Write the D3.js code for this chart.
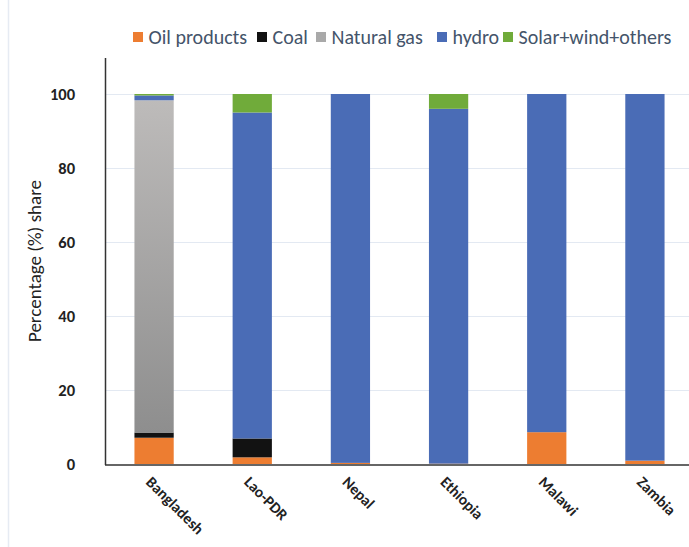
<!DOCTYPE html>
<html>
<head>
<meta charset="utf-8">
<script src="https://cdn.jsdelivr.net/npm/d3@7"></script>
<style>
  html, body { margin: 0; padding: 0; background: #fff; }
  svg { display: block; font-family: Calibri, Carlito, Lato, "Open Sans", sans-serif; }
</style>
</head>
<body>
<svg id="chart" width="689" height="547"></svg>
<script>
// Electricity generation mix by country (percentage share)
const countries = ["Bangladesh", "Lao-PDR", "Nepal", "Ethiopia", "Malawi", "Zambia"];
const seriesNames = ["Oil products", "Coal", "Natural gas", "hydro", "Solar+wind+others"];
const oilProducts = [7.1, 1.8, 0.3, 0.1, 8.6, 0.9];
const coal        = [1.4, 5.1, 0, 0, 0, 0];
const naturalGas  = [89.8, 0, 0, 0, 0, 0];
const hydro       = [1.3, 88.1, 99.7, 95.9, 91.4, 99.1];
const solarWind   = [0.4, 5.0, 0, 4.0, 0, 0];
const yTicks = [0, 20, 40, 60, 80, 100];

const seriesValues = [oilProducts, coal, naturalGas, hydro, solarWind];
const colors = ["#ED7D31", "#121212", "url(#gasGrad)", "#4A6CB6", "#70AB3A"];
const legendColors = ["#ED7D31", "#121212", "#A9A9A9", "#4A6CB6", "#70AB3A"];
const FONT = "Calibri, Carlito, Lato, 'Open Sans', sans-serif";

const rows = countries.map((c, i) => {
  const r = { country: c };
  seriesNames.forEach((s, j) => r[s] = seriesValues[j][i]);
  return r;
});
const stacked = d3.stack().keys(seriesNames)(rows);

const svg = d3.select("#chart");
const defs = svg.append("defs");
const grad = defs.append("linearGradient")
  .attr("id", "gasGrad").attr("x1", 0).attr("y1", 1).attr("x2", 0).attr("y2", 0);
grad.append("stop").attr("offset", "0%").attr("stop-color", "#8E8E8E");
grad.append("stop").attr("offset", "100%").attr("stop-color", "#BDBBBA");

const x = d3.scaleBand().domain(countries).range([105, 694]).paddingInner(0.6).paddingOuter(0.3);
const y = d3.scaleLinear().domain([0, 100]).range([464, 94]);

// faint frame line on the left
svg.append("line").attr("x1", 8.5).attr("x2", 8.5).attr("y1", 0).attr("y2", 547)
  .attr("stroke", "#E6EBF3").attr("stroke-width", 1.5);

// gridlines
svg.append("g").selectAll("line").data(yTicks.filter(t => t > 0)).join("line")
  .attr("x1", 105).attr("x2", 689)
  .attr("y1", d => Math.round(y(d)) + 0.5).attr("y2", d => Math.round(y(d)) + 0.5)
  .attr("stroke", "#E3E9F2").attr("stroke-width", 1);

// bars
svg.append("g").selectAll("g").data(stacked).join("g")
  .attr("fill", (d, i) => colors[i])
  .selectAll("rect").data(d => d.filter(p => p[1] - p[0] > 0)).join("rect")
  .attr("x", d => x(d.data.country))
  .attr("width", x.bandwidth())
  .attr("y", d => y(d[1]))
  .attr("height", d => y(d[0]) - y(d[1]));

// y axis
const yAxis = d3.axisLeft(y).tickValues(yTicks).tickSize(0).tickPadding(0);
const yg = svg.append("g").attr("transform", "translate(105,0)").call(yAxis);
yg.select(".domain").remove();
yg.selectAll("text")
  .attr("x", -30).attr("font-size", 16.5).attr("font-weight", "bold")
  .attr("fill", "#222").attr("font-family", FONT);
svg.append("line").attr("x1", 105.5).attr("x2", 105.5).attr("y1", 58).attr("y2", 465)
  .attr("stroke", "#333").attr("stroke-width", 1.5);

// x axis
const xAxis = d3.axisBottom(x).tickSize(0).tickPadding(0);
const xg = svg.append("g").attr("transform", "translate(0,464)").call(xAxis);
xg.select(".domain").remove();
xg.selectAll("text")
  .attr("text-anchor", "start").attr("dy", 0).attr("y", 0)
  .attr("transform", "translate(-9,19) rotate(45)")
  .attr("font-size", 15.5).attr("font-weight", "bold").attr("fill", "#222")
  .attr("font-family", FONT);
svg.append("line").attr("x1", 105).attr("x2", 689).attr("y1", 465).attr("y2", 465)
  .attr("stroke", "#333").attr("stroke-width", 1.5);

// y axis title
svg.append("text")
  .attr("transform", "translate(41,261) rotate(-90)")
  .attr("text-anchor", "middle").attr("font-size", 19).attr("fill", "#222")
  .attr("font-family", FONT)
  .text("Percentage (%) share");

// legend
const legendX = [133, 257, 316, 437, 503];
const lg = svg.append("g").selectAll("g").data(seriesNames).join("g")
  .attr("transform", (d, i) => `translate(${legendX[i]},37)`);
lg.append("rect").attr("x", 0).attr("y", -5).attr("width", 10).attr("height", 10)
  .attr("fill", (d, i) => legendColors[i]);
lg.append("text").attr("x", 15.5).attr("y", 0).attr("dy", "0.35em")
  .attr("font-size", 20).attr("fill", "#44546A")
  .text(d => d);
</script>
</body>
</html>
